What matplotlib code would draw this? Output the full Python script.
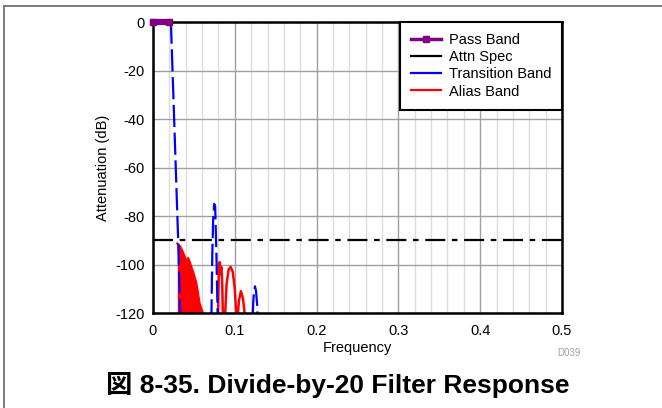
import matplotlib
matplotlib.use("Agg")
import matplotlib.pyplot as plt
from matplotlib.lines import Line2D
from matplotlib.ticker import MultipleLocator

# ==========================
# DATA
# ==========================

pass_freq = [0.0, 0.02]
pass_db = [0, 0]

spec_freq = [0.0, 0.5]
spec_db = [-90, -90]

trans_freq = [0.020, 0.022, 0.031, 0.034, 0.070, 0.0715, 0.0725, 0.0735,
              0.0748, 0.0760, 0.0775, 0.0790, 0.0800, 0.1210, 0.1225,
              0.1235, 0.1247, 0.1260, 0.1272, 0.1290]
trans_db = [0, -1, -92, -130, -130, -120, -96, -82,
            -75, -76, -95, -120, -130, -130, -116,
            -111, -109, -111, -116, -130]

# dense ripple region, drawn as its envelope
alias_env_freq = [0.0297, 0.031, 0.033, 0.0355, 0.038, 0.040, 0.042, 0.043,
                  0.045, 0.048, 0.050, 0.053, 0.055, 0.057, 0.061]
alias_env_db = [-91.3, -92.0, -92.4, -94, -96, -98, -98.5, -97.3,
                -99, -102, -104, -107.6, -111.7, -116, -120]

alias_freq = [0.0795, 0.0805, 0.0815, 0.0825, 0.0835, 0.0845, 0.0855,
              0.0880, 0.0900, 0.0925, 0.0950, 0.0975, 0.1000, 0.1020,
              0.1035, 0.1050, 0.1075, 0.1100, 0.1120, 0.1130]
alias_db = [-122, -102, -99, -104, -101, -106, -122,
            -122, -108, -102, -101, -103, -110, -122,
            -122, -115, -111, -114, -120, -122]

xticks = [0, 0.1, 0.2, 0.3, 0.4, 0.5]
yticks = [0, -20, -40, -60, -80, -100, -120]

# ==========================
# FIGURE
# ==========================

plt.rcParams["font.family"] = ["Liberation Sans", "Noto Sans CJK JP", "DejaVu Sans"]
plt.rcParams["axes.unicode_minus"] = False

fig = plt.figure(figsize=(6.62, 4.08), dpi=100)
ax = fig.add_axes([0.2311, 0.2328, 0.6178, 0.7132])

ax.set_xlim(0, 0.5)
ax.set_ylim(-120, 0)

ax.xaxis.set_minor_locator(MultipleLocator(0.02))
ax.set_xticks(xticks)
ax.set_xticklabels(["0", "0.1", "0.2", "0.3", "0.4", "0.5"])
ax.set_yticks(yticks)
ax.set_yticklabels([str(v) for v in yticks])
ax.tick_params(which="both", length=0, labelsize=10.5, colors="black")
ax.tick_params(axis="x", pad=8)
ax.tick_params(axis="y", pad=6)

ax.grid(which="major", color="#a0a0a0", linewidth=1.0)
ax.grid(which="minor", axis="x", color="#dcdcdc", linewidth=1.0)
ax.set_axisbelow(True)

for s in ax.spines.values():
    s.set_linewidth(1.8)
    s.set_color("black")

# ==========================
# LINES
# ==========================

ax.fill_between(alias_env_freq, alias_env_db, -120, color="red", linewidth=0)
ax.plot(alias_env_freq, alias_env_db, color="red", linewidth=1.5)
ax.plot(alias_freq, alias_db, color="red", linewidth=1.8)

ax.plot(spec_freq, spec_db, color="black", linewidth=1.6,
        dashes=(9, 3, 2.5, 3))

ax.plot(trans_freq, trans_db, color="blue", linewidth=1.6,
        dashes=(10, 2.5))

ax.plot(pass_freq, pass_db, color="purple", linewidth=4.5,
        marker="s", markersize=5, clip_on=False, zorder=5)

# legend handles
handles = [
    Line2D([], [], color="purple", linewidth=2.5, marker="s", markersize=4),
    Line2D([], [], color="black", linewidth=1.6),
    Line2D([], [], color="blue", linewidth=1.6),
    Line2D([], [], color="red", linewidth=1.6),
]
labels = ["Pass Band", "Attn Spec", "Transition Band", "Alias Band"]

leg = ax.legend(handles, labels, loc="upper right", borderaxespad=0,
                fontsize=10.5, fancybox=False, framealpha=1,
                edgecolor="black", handlelength=2.0, handletextpad=0.55,
                labelspacing=0.22, borderpad=0.75)
leg.get_frame().set_linewidth(1.5)

ax.set_xlabel("Frequency", fontsize=10.5, labelpad=2)
ax.set_ylabel("Attenuation (dB)", fontsize=10.5, labelpad=4)

# ==========================
# TEXT + FRAME
# ==========================

fig.text(580 / 662, 1 - 353 / 408, "D039", fontsize=7, color="#a0a0a0",
         ha="right", va="center")
fig.text(338 / 662, 1 - 385 / 408, "図 8-35. Divide-by-20 Filter Response",
         fontsize=19, fontweight="bold", ha="center", va="center")

fig.add_artist(Line2D([4 / 662, 1], [1 - 5.5 / 408, 1 - 5.5 / 408],
                      color="#707070", linewidth=1.3))
fig.add_artist(Line2D([4 / 662, 4 / 662], [0, 1 - 5.5 / 408],
                      color="#707070", linewidth=1.3))

fig.savefig("out.png", dpi=100)
